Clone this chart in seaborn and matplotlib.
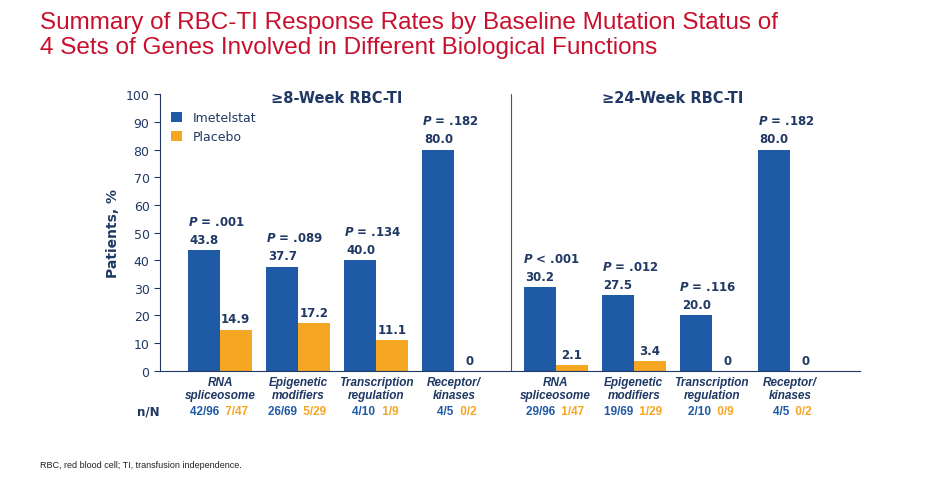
import pandas as pd
import seaborn as sns
import matplotlib.pyplot as plt

groups = ["RNA\nspliceosome", "Epigenetic\nmodifiers", "Transcription\nregulation", "Receptor/\nkinases"] * 2
positions = [0, 1, 2, 3, 4.3, 5.3, 6.3, 7.3]
imetelstat = [43.8, 37.7, 40.0, 80.0, 30.2, 27.5, 20.0, 80.0]
placebo = [14.9, 17.2, 11.1, 0, 2.1, 3.4, 0, 0]
pvals = ["= .001", "= .089", "= .134", "= .182", "< .001", "= .012", "= .116", "= .182"]
n_ime = ["42/96", "26/69", "4/10", "4/5", "29/96", "19/69", "2/10", "4/5"]
n_pla = ["7/47", "5/29", "1/9", "0/2", "1/47", "1/29", "0/9", "0/2"]

navy = "#1f3864"
blue = "#1f5aa6"
orange = "#f5a623"

df = pd.DataFrame({
    "pos": positions * 2,
    "val": imetelstat + placebo,
    "arm": ["Imetelstat"] * 8 + ["Placebo"] * 8,
})

sns.set_style("white")
fig = plt.figure(figsize=(9.41, 4.81), dpi=100)
ax = fig.add_axes([0.170, 0.227, 0.744, 0.575])
sns.barplot(data=df, x="pos", y="val", hue="arm", native_scale=True,
            palette=[blue, orange], saturation=1, ax=ax, width=0.82, linewidth=0, gap=0)
ax.set_xlim(-0.77, 8.2)
ax.set_ylim(0, 100)
ax.set_yticks(range(0, 101, 10))
ax.tick_params(axis="y", colors=navy, labelsize=9, length=4, left=True)
ax.set_ylabel("Patients, %", color=navy, fontsize=10, fontweight="bold")
ax.set_xlabel("")
ax.set_xticks(positions)
ax.set_xticklabels(groups, fontstyle="italic", fontweight="bold", color=navy, fontsize=8.5,
                   family="Liberation Sans", linespacing=1.1)
ax.tick_params(axis="x", length=0, pad=4)
for s in ["top", "right"]:
    ax.spines[s].set_visible(False)
ax.spines["left"].set_color(navy)
ax.spines["bottom"].set_color(navy)
ax.axvline(3.73, color="#555555", lw=0.8, ymin=0, ymax=1)

leg = ax.legend(loc="upper left", frameon=False, fontsize=9, handlelength=0.9,
                handleheight=0.9, bbox_to_anchor=(0.0, 0.98))
for t in leg.get_texts():
    t.set_color(navy)

for x, a, b, p in zip(positions, imetelstat, placebo, pvals):
    ax.text(x - 0.2, a + 1.5, f"{a:.1f}", ha="center", va="bottom", fontsize=8.5,
            fontweight="bold", color=navy)
    ax.text(x + 0.2, b + 1.5, f"{b:.1f}" if b > 0 else "0", ha="center", va="bottom",
            fontsize=8.5, fontweight="bold", color=navy)
    ax.text(x - 0.05, max(a, b) + 8, r"$\bfit{P}$ " + p, ha="center", va="bottom",
            fontsize=8.5, fontweight="bold", color=navy)

ax.text(1.5, 99, "≥8-Week RBC-TI", ha="center", va="center", fontsize=10.5,
        fontweight="bold", color=navy)
ax.text(5.8, 99, "≥24-Week RBC-TI", ha="center", va="center", fontsize=10.5,
        fontweight="bold", color=navy)

ax.text(-0.77, -14.5, "n/N", ha="right", va="center",
        fontsize=8.5, fontweight="bold", color=navy)
for x, a, b in zip(positions, n_ime, n_pla):
    ax.text(x + 0.03, -14.5, a + " ", ha="right", va="center", fontsize=8.5,
            fontweight="bold", color=blue, family="Liberation Sans")
    ax.text(x + 0.03, -14.5, " " + b, ha="left", va="center", fontsize=8.5,
            fontweight="bold", color=orange, family="Liberation Sans")

fig.text(0.043, 0.975, "Summary of RBC-TI Response Rates by Baseline Mutation Status of\n"
         "4 Sets of Genes Involved in Different Biological Functions",
         ha="left", va="top", fontsize=17.5, color="#c8102e", linespacing=1.2,
         family="Liberation Sans")
fig.text(0.043, 0.027, "RBC, red blood cell; TI, transfusion independence.",
         fontsize=6.5, color="#222222", family="Liberation Sans")

fig.savefig("out.png", dpi=100)
